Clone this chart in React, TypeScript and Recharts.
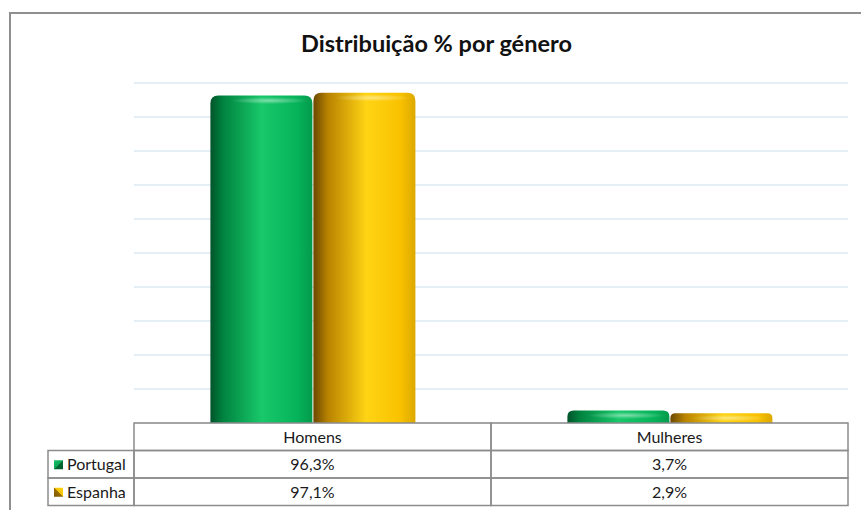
import React from "react";
import { BarChart, Bar, XAxis, YAxis, CartesianGrid } from "recharts";

const categories = ["Homens", "Mulheres"];
const seriesNames = ["Portugal", "Espanha"];
const portugal = [96.3, 3.7];
const espanha = [97.1, 2.9];
const yTicks = [0, 10, 20, 30, 40, 50, 60, 70, 80, 90, 100];
const chartTitle = "Distribuição % por género";

const data = categories.map((c, i) => ({
  name: c,
  Portugal: portugal[i],
  Espanha: espanha[i],
}));
const seriesValues = [portugal, espanha];

const W = 861;
const H = 510;
const PLOT_LEFT = 134;
const PLOT_RIGHT = 848;
const PLOT_TOP = 83;
const PLOT_BOTTOM = 423;
const ROW_H = 27.5;
const LEGEND_LEFT = 48;
const LINE = "#8c8c8c";
const FONT = "Lato, 'Open Sans', sans-serif";

const gradIds = ["gradPortugal", "gradEspanha"];
const keyIds = ["keyPortugal", "keyEspanha"];

const fmt = (v: number) => v.toFixed(1).replace(".", ",") + "%";

const CylinderBar = (props: any) => {
  const { x, y, width, height, gradId } = props;
  if (!width || height <= 0) return null;
  const r = Math.min(8, height / 2, width / 2);
  const d = `M${x},${y + height} L${x},${y + r} Q${x},${y} ${x + r},${y} L${x + width - r},${y} Q${x + width},${y} ${x + width},${y + r} L${x + width},${y + height} Z`;
  return (
    <g>
      <path d={d} fill={`url(#${gradId})`} />
      <ellipse
        cx={x + width * 0.58}
        cy={y + Math.min(5, height / 2)}
        rx={width * 0.38}
        ry={Math.min(3.5, height / 3)}
        fill="url(#topGlow)"
      />
    </g>
  );
};

const NoTick = () => <g />;

const TableTick = (props: any) => {
  const { payload } = props;
  const idx = payload.index;
  const half = (PLOT_RIGHT - PLOT_LEFT) / categories.length / 2;
  const cx = payload.coordinate;
  const x0 = cx - half;
  const top = PLOT_BOTTOM;
  return (
    <g fontFamily={FONT} fontSize={16} fill="#1a1a1a">
      <rect x={x0} y={top} width={half * 2} height={ROW_H} fill="none" stroke={LINE} strokeWidth={1.5} />
      <text x={cx} y={top + ROW_H / 2 + 6} textAnchor="middle">
        {payload.value}
      </text>
      {seriesValues.map((vals, s) => (
        <g key={s}>
          <rect
            x={x0}
            y={top + ROW_H * (s + 1)}
            width={half * 2}
            height={ROW_H}
            fill="none"
            stroke={LINE}
            strokeWidth={1.5}
          />
          <text x={cx} y={top + ROW_H * (s + 1) + ROW_H / 2 + 6} textAnchor="middle">
            {fmt(vals[idx])}
          </text>
        </g>
      ))}
      {idx === 0 &&
        seriesNames.map((n, s) => (
          <g key={n}>
            <rect
              x={LEGEND_LEFT}
              y={top + ROW_H * (s + 1)}
              width={PLOT_LEFT - LEGEND_LEFT}
              height={ROW_H}
              fill="none"
              stroke={LINE}
              strokeWidth={1.5}
            />
            <rect
              x={LEGEND_LEFT + 6}
              y={top + ROW_H * (s + 1) + ROW_H / 2 - 4}
              width={9}
              height={9}
              fill={`url(#${keyIds[s]})`}
            />
            <text x={LEGEND_LEFT + 19} y={top + ROW_H * (s + 1) + ROW_H / 2 + 6}>
              {n}
            </text>
          </g>
        ))}
    </g>
  );
};

export default function App() {
  return (
    <div style={{ position: "absolute", left: 0, top: 0, width: W, height: H, overflow: "hidden", background: "#fff" }}>
      <div
        style={{
          position: "absolute",
          left: 9,
          top: 12,
          width: W + 20,
          height: H + 20,
          borderLeft: "2px solid #8f8f8f",
          borderTop: "2px solid #8f8f8f",
        }}
      />
      <div
        style={{
          position: "absolute",
          left: 0,
          width: W - 8,
          top: 29,
          textAlign: "center",
          fontFamily: FONT,
          fontWeight: 700,
          fontSize: 23.5,
          color: "#111",
          paddingLeft: 10,
        }}
      >
        {chartTitle}
      </div>
      <div style={{ position: "absolute", left: 0, top: 0 }}>
        <BarChart
          width={W}
          height={H}
          data={data}
          margin={{ top: PLOT_TOP, right: W - PLOT_RIGHT, bottom: 0, left: PLOT_LEFT }}
          barCategoryGap="21.4%"
          barGap={1}
        >
          <defs>
            <linearGradient id="gradPortugal" x1="0" y1="0" x2="1" y2="0">
              <stop offset="0%" stopColor="#00532a" />
              <stop offset="12%" stopColor="#00823f" />
              <stop offset="50%" stopColor="#18c86a" />
              <stop offset="85%" stopColor="#06b35a" />
              <stop offset="100%" stopColor="#049a4c" />
            </linearGradient>
            <linearGradient id="gradEspanha" x1="0" y1="0" x2="1" y2="0">
              <stop offset="0%" stopColor="#6a4800" />
              <stop offset="14%" stopColor="#b88200" />
              <stop offset="52%" stopColor="#ffd414" />
              <stop offset="85%" stopColor="#f9c200" />
              <stop offset="100%" stopColor="#dca800" />
            </linearGradient>
            <radialGradient id="topGlow" cx="0.5" cy="0.5" r="0.5">
              <stop offset="0%" stopColor="#ffffff" stopOpacity={0.45} />
              <stop offset="100%" stopColor="#ffffff" stopOpacity={0} />
            </radialGradient>
            <linearGradient id="keyPortugal" x1="0" y1="0" x2="1" y2="1">
              <stop offset="0%" stopColor="#17c468" />
              <stop offset="50%" stopColor="#0aa655" />
              <stop offset="50%" stopColor="#006a34" />
              <stop offset="100%" stopColor="#005a2b" />
            </linearGradient>
            <linearGradient id="keyEspanha" x1="0" y1="1" x2="1" y2="0">
              <stop offset="0%" stopColor="#7a5600" />
              <stop offset="50%" stopColor="#9a6e00" />
              <stop offset="50%" stopColor="#f5c400" />
              <stop offset="100%" stopColor="#ffd414" />
            </linearGradient>
          </defs>
          <CartesianGrid horizontal vertical={false} stroke="#dbe9f2" strokeWidth={1.5} />
          <YAxis
            domain={[0, 100]}
            ticks={yTicks}
            width={0}
            tick={<NoTick />}
            axisLine={false}
            tickLine={false}
          />
          <XAxis
            dataKey="name"
            height={H - PLOT_BOTTOM}
            axisLine={false}
            tickLine={false}
            interval={0}
            tick={<TableTick />}
          />
          <Bar
            dataKey="Portugal"
            isAnimationActive={false}
            shape={(p: any) => <CylinderBar {...p} gradId={gradIds[0]} />}
          />
          <Bar
            dataKey="Espanha"
            isAnimationActive={false}
            shape={(p: any) => <CylinderBar {...p} gradId={gradIds[1]} />}
          />
        </BarChart>
      </div>
    </div>
  );
}
